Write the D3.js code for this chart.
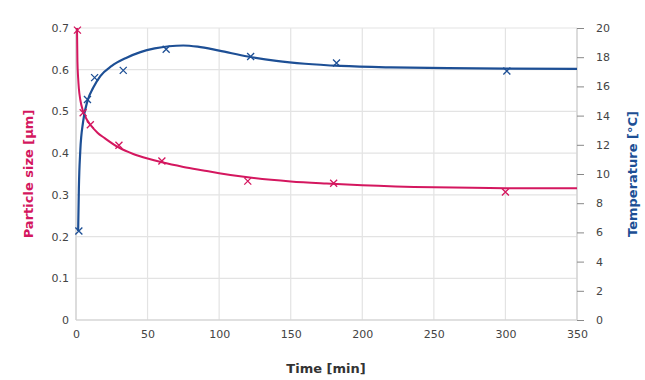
<!DOCTYPE html>
<html><head><meta charset="utf-8">
<script src="https://cdn.jsdelivr.net/npm/d3@7"></script>
<style>body{margin:0;background:#fff}svg{display:block}text{font-family:"DejaVu Sans",sans-serif}</style>
</head><body><svg id="c" width="645" height="380"></svg>
<script>
// Measured particle size (µm)
const sizeTimes = [1, 5, 10, 30, 60, 120, 180, 300];
const sizeValues = [0.695, 0.497, 0.468, 0.419, 0.381, 0.333, 0.328, 0.307];
// Fitted particle size curve
const sizeCurveTimes = [0.7, 1, 1.5, 2, 3, 5, 8, 10, 15, 20, 30, 40, 50, 60, 75, 90, 100, 120, 150, 175, 200, 250, 300, 350];
const sizeCurveValues = [0.70, 0.62, 0.58, 0.555, 0.528, 0.50, 0.478, 0.468, 0.449, 0.436, 0.413, 0.398, 0.387, 0.378, 0.367, 0.358, 0.352, 0.342, 0.332, 0.327, 0.323, 0.318, 0.316, 0.316];
// Measured temperature (°C)
const tempTimes = [2, 8, 13, 33, 63, 122, 182, 301];
const tempValues = [6.1, 15.1, 16.6, 17.1, 18.55, 18.05, 17.6, 17.05];
// Fitted temperature curve
const tempCurveTimes = [1.5, 2, 3, 5, 8, 12, 17, 25, 35, 45, 55, 65, 75, 85, 100, 120, 140, 160, 185, 220, 260, 300, 350];
const tempCurveValues = [6.1, 9.0, 11.6, 13.6, 15.0, 15.9, 16.7, 17.4, 17.95, 18.35, 18.6, 18.75, 18.8, 18.72, 18.45, 18.05, 17.75, 17.55, 17.4, 17.3, 17.25, 17.22, 17.2];
// Ticks
const xTicks = [0, 50, 100, 150, 200, 250, 300, 350];
const sizeTicks = [0, 0.1, 0.2, 0.3, 0.4, 0.5, 0.6, 0.7];
const tempTicks = [0, 2, 4, 6, 8, 10, 12, 14, 16, 18, 20];

const pink = "#d4175f", blue = "#1d4f95", grid = "#e3e3e3", txt = "#444";
const svg = d3.select("#c");
const L = 76, R = 577, T = 28, B = 320;
const x = d3.scaleLinear().domain([0, 350]).range([L, R]);
const yS = d3.scaleLinear().domain([0, 0.7]).range([B, T]);
const yT = d3.scaleLinear().domain([0, 20]).range([B, T]);

// grid
const g = svg.append("g");
g.selectAll("line.v").data(xTicks).join("line")
  .attr("x1", d => x(d)).attr("x2", d => x(d)).attr("y1", T).attr("y2", B)
  .attr("stroke", grid).attr("stroke-width", 1.2);
g.selectAll("line.h").data(sizeTicks).join("line")
  .attr("x1", L).attr("x2", R).attr("y1", d => yS(d)).attr("y2", d => yS(d))
  .attr("stroke", grid).attr("stroke-width", 1.2);
// axes lines
svg.append("line").attr("x1", L).attr("x2", L).attr("y1", T).attr("y2", B).attr("stroke", "#d0d0d0").attr("stroke-width", 1.2);
svg.append("line").attr("x1", L).attr("x2", R).attr("y1", B).attr("y2", B).attr("stroke", "#d0d0d0").attr("stroke-width", 1.2);
svg.append("line").attr("x1", R).attr("x2", R).attr("y1", T).attr("y2", B).attr("stroke", "#d0d0d0").attr("stroke-width", 1.2);

// axes
const fs = "11px";
const ax = svg.append("g").attr("transform", `translate(0,${B})`)
  .call(d3.axisBottom(x).tickValues(xTicks).tickSize(0).tickPadding(10).tickFormat(d3.format("d")));
const ayl = svg.append("g").attr("transform", `translate(${L},0)`)
  .call(d3.axisLeft(yS).tickValues(sizeTicks).tickSize(0).tickPadding(7).tickFormat(d => d === 0 ? "0" : d3.format(".1f")(d)));
const ayr = svg.append("g").attr("transform", `translate(${R},0)`)
  .call(d3.axisRight(yT).tickValues(tempTicks).tickSize(7).tickPadding(12).tickFormat(d3.format("d")));
[ax, ayl, ayr].forEach(a => {
  a.select(".domain").remove();
  a.selectAll("text").attr("fill", txt).style("font-size", fs).style("font-family", "DejaVu Sans");
  a.selectAll("line").attr("stroke", "#888");
});

// curves
const lineS = d3.line().x(d => x(d[0])).y(d => yS(d[1])).curve(d3.curveMonotoneX);
const lineT = d3.line().x(d => x(d[0])).y(d => yT(d[1])).curve(d3.curveMonotoneX);
svg.append("path").datum(sizeCurveTimes.map((t, i) => [t, sizeCurveValues[i]]))
  .attr("d", lineS).attr("fill", "none").attr("stroke", pink).attr("stroke-width", 2);
svg.append("path").datum(tempCurveTimes.map((t, i) => [t, tempCurveValues[i]]))
  .attr("d", lineT).attr("fill", "none").attr("stroke", blue).attr("stroke-width", 2.2);

// crosses
const cross = (sel, color) => sel.append("path")
  .attr("d", "M-3.5,-3.5L3.5,3.5M-3.5,3.5L3.5,-3.5")
  .attr("stroke", color).attr("stroke-width", 1.3).attr("fill", "none");
sizeTimes.forEach((t, i) => {
  cross(svg.append("g").attr("transform", `translate(${x(t)},${yS(sizeValues[i])})`), pink);
});
tempTimes.forEach((t, i) => {
  cross(svg.append("g").attr("transform", `translate(${x(t)},${yT(tempValues[i])})`), blue);
});

// titles
svg.append("text").attr("transform", `translate(33,${(T + B) / 2}) rotate(-90)`)
  .attr("text-anchor", "middle").attr("fill", pink).style("font-size", "13px").style("font-weight", "bold")
  .text("Particle size [µm]");
svg.append("text").attr("transform", `translate(637,${(T + B) / 2}) rotate(-90)`)
  .attr("text-anchor", "middle").attr("fill", blue).style("font-size", "13px").style("font-weight", "bold")
  .text("Temperature [°C]");
svg.append("text").attr("x", 326).attr("y", 373).attr("text-anchor", "middle")
  .attr("fill", "#333").style("font-size", "13px").style("font-weight", "bold")
  .text("Time [min]");
</script></body></html>
